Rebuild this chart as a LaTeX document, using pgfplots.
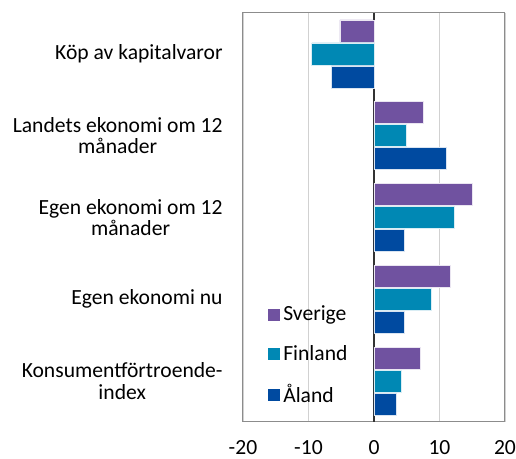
\documentclass[border=0pt]{standalone}
\usepackage{pgfplots}
\pgfplotsset{compat=1.18}
\usepackage{fontspec}
\setmainfont{Carlito}
\definecolor{cSve}{HTML}{7052A0}
\definecolor{cFin}{HTML}{0088B4}
\definecolor{cAla}{HTML}{004AA0}
\begin{document}
\begin{tikzpicture}
\path[use as bounding box] (-121.5pt,-18.5pt) rectangle (136.5pt,211pt);
\begin{axis}[
  anchor=south west, at={(0pt,0pt)},
  scale only axis,
  width=131pt, height=204.5pt,
  xbar, bar width=11pt,
  y dir=reverse,
  xmin=-20, xmax=20, ymin=-0.5, ymax=4.5,
  xtick={-20,-10,0,10,20},
  xticklabels={-20,-10,0,10,20},
  ytick={0,1,2,3,4},
  yticklabels={K\"op av kapitalvaror, Landets ekonomi om 12\\m\aa nader, Egen ekonomi om 12\\m\aa nader, Egen ekonomi nu, Konsumentf\"ortroende-\\index},
  major tick length=0pt,
  tick style={draw=none},
  font=\fontsize{10.8}{10.6}\selectfont,
  yticklabel style={align=center, inner sep=0pt, xshift=-10pt, font=\fontsize{10.8}{10.6}\selectfont},
  xticklabel style={inner sep=0pt, yshift=-9pt, font=\fontsize{10.8}{10.6}\selectfont},
  axis line style={draw=black!45, line width=0.5pt},
  xmajorgrids, grid style={draw=black!18, line width=0.6pt},
  extra x ticks={0}, extra x tick labels={},
  extra x tick style={grid style={draw=black!80, line width=0.7pt}},
  legend style={draw=none, fill=none, at={(axis description cs:0.095,0.292)}, anchor=north west,
    row sep=7.6pt, inner sep=0pt, font=\fontsize{10.8}{10.6}\selectfont,
    nodes={inner sep=1.5pt}},
  legend cell align=left,
  legend image code/.code={\fill[#1,draw=none] (0pt,-3pt) rectangle (6pt,3pt);},
  legend style={/tikz/every even column/.append style={column sep=2.5pt}},
]
\addplot[fill=cSve, draw=white!85!cSve, line width=0.3pt, bar shift=11.5pt] coordinates {(-5.2,0) (7.5,1) (15.0,2) (11.6,3) (7.1,4)};
\addplot[fill=cFin, draw=white!85!cFin, line width=0.3pt, bar shift=0pt] coordinates {(-9.5,0) (5.0,1) (12.2,2) (8.7,3) (4.2,4)};
\addplot[fill=cAla, draw=white!85!cAla, line width=0.3pt, bar shift=-11.5pt] coordinates {(-6.5,0) (11.0,1) (4.7,2) (4.6,3) (3.4,4)};
\legend{Sverige, Finland, \AA land}
\end{axis}
\end{tikzpicture}
\end{document}
